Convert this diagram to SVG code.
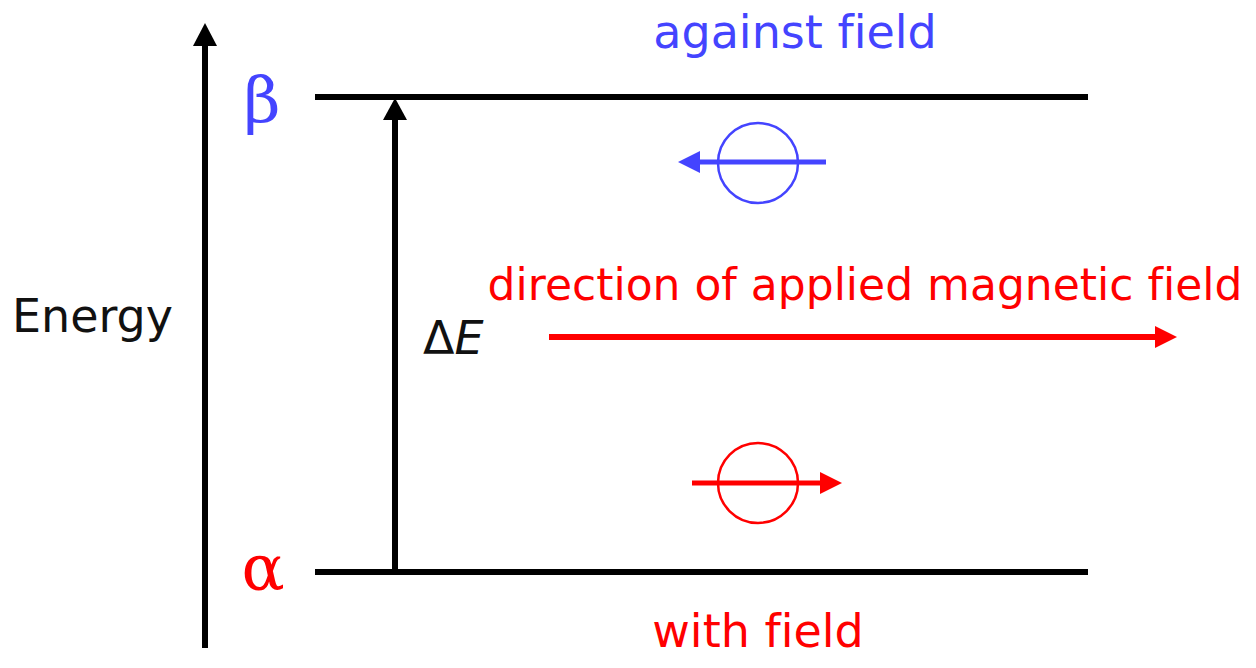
<svg xmlns="http://www.w3.org/2000/svg" width="1256" height="668" viewBox="0 0 1256 668">
<style>
.sans{font-family:"DejaVu Sans","Verdana",sans-serif;font-size:46px;font-variant-ligatures:none}
.fieldlbl{font-size:44px}
.greek{font-family:"DejaVu Serif","Liberation Serif",serif;font-size:64px}
.blue{fill:#4444ff}
.red{fill:#ff0000}
.blk{fill:#111}
.lvl{stroke:#000;stroke-width:6;fill:none}
</style>
<rect width="1256" height="668" fill="#fff"/>
<g id="energy-axis">
<line x1="205" y1="648" x2="205" y2="40" stroke="#000" stroke-width="6"/>
<polygon points="205,23 217,46 193,46" fill="#000"/>
<text class="sans blk" x="12" y="332">Energy</text>
</g>
<g id="beta-level">
<line class="lvl" x1="315" y1="97" x2="1088" y2="97"/>
<text class="greek blue" x="262" y="122" text-anchor="middle">β</text>
<text class="sans blue" x="795" y="48" text-anchor="middle">against field</text>
</g>
<g id="alpha-level">
<line class="lvl" x1="315" y1="572" x2="1088" y2="572"/>
<text class="greek red" x="263" y="590" text-anchor="middle">α</text>
<text class="sans red" x="758" y="647" text-anchor="middle">with field</text>
</g>
<g id="blue-spin">
<circle cx="758" cy="163" r="40" fill="none" stroke="#4444ff" stroke-width="2.5"/>
<line x1="826" y1="162" x2="695" y2="162" stroke="#4444ff" stroke-width="5"/>
<polygon points="678,162 700,151 700,173" fill="#4444ff"/>
</g>
<g id="red-spin">
<circle cx="758" cy="483" r="40" fill="none" stroke="#ff0000" stroke-width="2.5"/>
<line x1="692" y1="483" x2="825" y2="483" stroke="#ff0000" stroke-width="5"/>
<polygon points="842,483 820,472 820,494" fill="#ff0000"/>
</g>
<g id="field">
<text class="sans fieldlbl red" x="865" y="300" text-anchor="middle">direction of applied magnetic field</text>
<line x1="549" y1="337" x2="1160" y2="337" stroke="#ff0000" stroke-width="6"/>
<polygon points="1177,337 1155,326 1155,348" fill="#ff0000"/>
</g>
<g id="connectors">
<line x1="395" y1="572" x2="395" y2="112" stroke="#000" stroke-width="6"/>
<polygon points="395,98 407,120 383,120" fill="#000"/>
<text class="sans blk" x="423" y="354">Δ<tspan font-style="italic">E</tspan></text>
</g>
</svg>
